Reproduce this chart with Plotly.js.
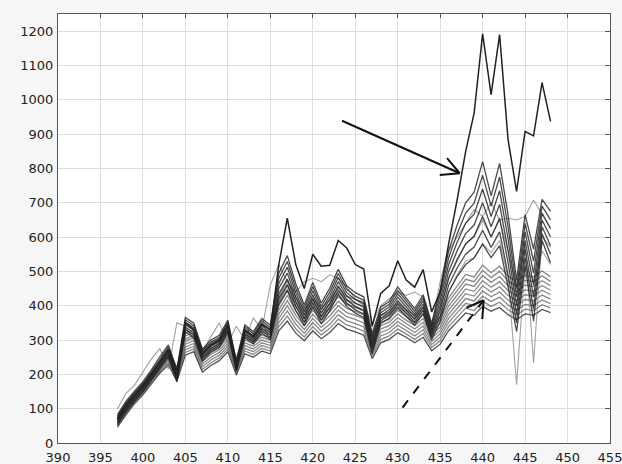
<!DOCTYPE html>
<html>
<head>
<meta charset="utf-8">
<script src="https://cdn.plot.ly/plotly-3.0.1.min.js"></script>
<style>html,body{margin:0;padding:0;background:#f6f6f6;}#chart{width:622px;height:464px;}</style>
</head>
<body>
<div id="chart"></div>
<script>
// wavelength positions
const wavelengths = [397,398,399,400,401,402,403,404,405,406,407,408,409,410,411,412,413,414,415,416,417,418,419,420,421,422,423,424,425,426,427,428,429,430,431,432,433,434,435,436,437,438,439,440,441,442,443,444,445,446,447,448];

// outlier spectrum (solid arrow)
const topLine = [70,108,138,166,200,236,272,200,350,330,260,285,300,345,225,330,310,345,330,520,655,520,450,550,515,518,590,568,520,507,340,436,458,531,475,454,505,382,440,580,708,849,961,1192,1015,1190,883,733,908,895,1050,937];

// upper (dark) group
const upper1 = [53,91,121,149,183,216,250,178,324,307,238,264,278,322,209,308,288,321,301,405,444,386,342,396,348,385,434,398,378,366,260,348,364,395,368,344,378,301,355,440,485,520,539,580,540,575,455,325,515,355,590,525];
const upper2 = [58,96,126,154,188,222,256,184,331,314,244,270,284,328,214,314,294,328,308,420,461,399,352,408,358,396,446,408,388,376,270,356,372,405,377,352,387,309,370,460,510,550,571,620,570,615,490,350,540,390,610,550];
const upper3 = [63,101,131,159,193,228,262,190,338,321,250,276,290,334,219,320,300,335,315,435,478,412,362,420,368,407,458,418,398,386,280,364,380,415,386,360,396,317,385,480,535,580,603,660,600,655,525,375,565,425,630,575];
const upper4 = [68,106,136,164,198,234,268,196,345,328,256,282,296,340,224,326,306,342,322,450,495,425,372,432,378,418,470,428,408,396,290,372,388,425,395,368,405,325,400,500,560,610,635,700,630,695,560,400,590,460,650,600];
const upper5 = [73,111,141,169,203,240,274,202,352,335,262,288,302,346,229,332,312,349,329,465,512,438,382,444,388,429,482,438,418,406,300,380,396,435,404,376,414,333,415,520,585,640,667,740,660,735,595,425,615,495,670,625];
const upper6 = [78,116,146,174,208,246,280,208,359,342,268,294,308,352,234,338,318,356,336,480,529,451,392,456,398,440,494,448,428,416,310,388,404,445,413,384,423,341,430,540,610,670,699,780,690,775,630,450,640,530,690,650];
const upper7 = [83,121,151,179,213,252,286,214,366,349,274,300,314,358,239,344,324,363,343,495,546,464,402,468,408,451,506,458,438,426,320,396,412,455,422,392,432,349,445,560,635,700,731,820,720,815,665,475,665,565,710,675];

// lower (smoother) group
const lower1 = [46,82,114,140,172,204,228,180,256,266,206,226,240,266,198,260,250,268,260,327,355,320,298,327,304,322,348,332,324,314,246,292,302,321,308,292,308,269,288,327,353,379,372,398,384,395,374,359,376,372,389,380];
const lower2 = [50,86,118,144,176,208,233,185,264,274,214,234,248,274,204,268,258,276,268,339,370,333,309,339,315,334,361,344,336,326,254,302,312,332,318,302,319,278,298,339,366,393,386,413,398,410,388,373,390,386,403,393];
const lower3 = [54,90,122,148,180,212,238,190,272,282,222,242,256,282,210,276,266,284,276,351,385,346,320,351,326,346,374,356,348,338,262,312,322,343,328,312,330,287,308,351,379,407,400,428,412,425,402,387,404,400,417,406];
const lower4 = [58,94,126,152,184,216,243,195,280,290,230,250,264,290,216,284,274,292,284,363,400,359,331,363,337,358,387,368,360,350,270,322,332,354,338,322,341,296,318,363,392,421,414,443,426,440,416,401,418,414,431,419];
const lower5 = [62,98,130,156,188,220,248,200,288,298,238,258,272,298,222,292,282,300,292,375,415,372,342,375,348,370,400,380,372,362,278,332,342,365,348,332,352,305,328,375,405,435,428,458,440,455,430,415,432,428,445,432];
const lower6 = [66,102,134,160,192,224,253,205,296,306,246,266,280,306,228,300,290,308,300,387,430,385,353,387,359,382,413,392,384,374,286,342,352,376,358,342,363,314,338,387,418,449,442,473,454,470,444,429,446,442,459,445];
const lower7 = [70,106,138,164,196,228,258,210,304,314,254,274,288,314,234,308,298,316,308,399,445,398,364,399,370,394,426,404,396,386,294,352,362,387,368,352,374,323,348,399,431,463,456,488,468,485,458,443,460,456,473,458];
const lower8 = [74,110,142,168,200,232,263,215,312,322,262,282,296,322,240,316,306,324,316,411,460,411,375,411,381,406,439,416,408,398,302,362,372,398,378,362,385,332,358,411,444,477,470,503,482,500,472,457,474,470,487,471];
const lower9 = [78,114,146,172,204,236,268,220,320,330,270,290,304,330,246,324,314,332,324,423,475,424,386,423,392,418,452,428,420,410,310,372,382,409,388,372,396,341,368,423,457,491,484,518,496,515,486,471,488,484,501,484];

// light grey outlying spectra
const grey1 = [100,145,168,205,245,275,215,350,340,300,265,310,350,290,340,300,365,330,460,520,470,440,470,480,470,490,480,455,420,400,350,400,420,440,430,440,425,340,470,560,600,640,680,660,700,650,655,650,660,708,664,624];
const grey2 = [60,95,128,160,190,225,255,200,300,310,248,268,285,310,230,305,295,315,305,410,450,400,360,400,365,390,430,405,395,385,290,350,360,390,370,350,375,320,370,440,490,530,540,580,555,590,480,170,520,470,560,520];
const grey3 = [66,104,134,162,195,230,262,198,330,318,252,275,292,330,224,318,300,332,315,430,470,410,365,420,370,405,455,415,398,388,284,362,376,410,384,362,395,318,390,480,530,580,600,650,600,650,560,450,580,233,600,570];

// axis ticks
const xTicks = [390,395,400,405,410,415,420,425,430,435,440,445,450,455];
const yTicks = [0,100,200,300,400,500,600,700,800,900,1000,1100,1200];

function line(y, color, width) {
  return {x: wavelengths, y: y, type: 'scatter', mode: 'lines',
          line: {color: color, width: width}, hoverinfo: 'skip', showlegend: false};
}

const traces = [];
[lower1,lower2,lower3,lower4,lower5,lower6,lower7,lower8,lower9].forEach((s, i) => {
  traces.push(line(s, i === 0 ? 'rgba(50,50,50,0.85)' : 'rgba(85,85,85,0.7)', 1.3));
});
[grey1, grey2, grey3].forEach(s => traces.push(line(s, 'rgba(130,130,130,0.75)', 1.1)));
[upper1,upper2,upper3,upper4,upper5,upper6,upper7].forEach(s => traces.push(line(s, 'rgba(30,30,30,0.8)', 1.3)));
traces.push(line(topLine, '#222', 1.5));
// carrier for the mirrored top/right tick marks
traces.push({x: [390], y: [0], xaxis: 'x2', yaxis: 'y2', type: 'scatter', mode: 'markers',
             marker: {opacity: 0}, hoverinfo: 'skip', showlegend: false});

const tickFont = {family: 'DejaVu Sans, Arial, sans-serif', size: 13, color: '#222'};

const layout = {
  width: 622, height: 464,
  margin: {l: 58, r: 12, t: 14, b: 21},
  paper_bgcolor: '#f6f6f6', plot_bgcolor: '#ffffff',
  showlegend: false,
  xaxis: {range: [390, 455], tickvals: xTicks, ticktext: xTicks.map(String),
          showgrid: true, gridcolor: '#dedede', gridwidth: 1, zeroline: false,
          showline: true, linecolor: '#555', linewidth: 1, mirror: true,
          ticks: '', tickfont: tickFont, ticklabelstandoff: 2, ticklabeloverflow: 'allow'},
  yaxis: {range: [0, 1250], tickvals: yTicks, ticktext: yTicks.map(String),
          showgrid: true, gridcolor: '#dedede', gridwidth: 1, zeroline: false,
          showline: true, linecolor: '#555', linewidth: 1, mirror: true,
          ticks: '', tickfont: tickFont, ticklabelstandoff: 1},
  xaxis2: {overlaying: 'x', side: 'top', range: [390, 455], tickvals: xTicks,
           ticks: 'inside', ticklen: 4, tickcolor: '#555', showticklabels: false,
           showgrid: false, zeroline: false},
  yaxis2: {overlaying: 'y', side: 'right', range: [0, 1250], tickvals: yTicks,
           ticks: 'inside', ticklen: 5, tickcolor: '#555', showticklabels: false,
           showgrid: false, zeroline: false},
  shapes: [
    // solid arrow
    {type: 'line', xref: 'x', yref: 'y', x0: 423.45, y0: 939, x1: 437.3, y1: 786, line: {color: '#111', width: 2}},
    {type: 'line', xref: 'x', yref: 'y', x0: 435.81, y0: 830, x1: 437.3, y1: 786, line: {color: '#111', width: 2}},
    {type: 'line', xref: 'x', yref: 'y', x0: 434.95, y0: 781, x1: 437.3, y1: 786, line: {color: '#111', width: 2}},
    // dashed arrow
    {type: 'line', xref: 'x', yref: 'y', x0: 430.57, y0: 103, x1: 440.12, y1: 416, line: {color: '#111', width: 2, dash: 'dash'}},
    {type: 'line', xref: 'x', yref: 'y', x0: 438.09, y0: 394, x1: 440.12, y1: 416, line: {color: '#111', width: 2}},
    {type: 'line', xref: 'x', yref: 'y', x0: 439.96, y0: 361, x1: 440.12, y1: 416, line: {color: '#111', width: 2}}
  ]
};

Plotly.newPlot('chart', traces, layout, {staticPlot: true, displayModeBar: false});
</script>
</body>
</html>
